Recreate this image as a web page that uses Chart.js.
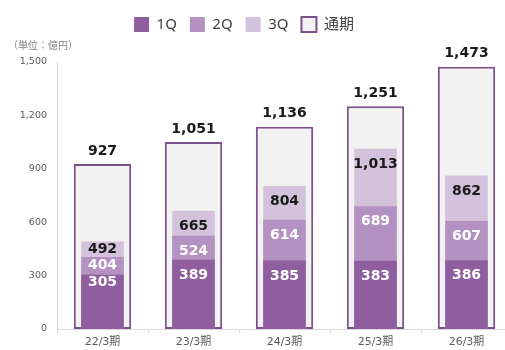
<!DOCTYPE html>
<html>
<head>
<meta charset="utf-8">
<script src="https://cdn.jsdelivr.net/npm/chart.js@4.4.0/dist/chart.umd.min.js"></script>
<style>
  html, body { margin: 0; padding: 0; background: #fff; overflow: hidden; }
  #wrap { position: relative; width: 505px; height: 350px; overflow: hidden; }
  #wrap canvas { position: absolute; left: -24px; top: 0; }
</style>
</head>
<body>
<div id="wrap"><canvas id="chart" width="536" height="350"></canvas></div>
<script>
const periods = ["22/3期", "23/3期", "24/3期", "25/3期", "26/3期"];
const q1 = [305, 389, 385, 383, 386];
const q2 = [404, 524, 614, 689, 607];
const q3 = [492, 665, 804, 1013, 862];
const fullYear = [927, 1051, 1136, 1251, 1473];
const seriesNames = ["1Q", "2Q", "3Q", "通期"];
const yTicks = [0, 300, 600, 900, 1200, 1500];
const unitLabel = "（単位：億円）";

const numFont = '"DejaVu Sans", "Noto Sans CJK JP", sans-serif';
const jpFont = '"Noto Sans", "Noto Sans CJK JP", sans-serif';

// un peu plus d'espace sous la légende
const legendMargin = {
  id: "legendMargin",
  beforeInit(chart) {
    const fit = chart.legend.fit;
    chart.legend.fit = function () {
      fit.bind(chart.legend)();
      this.height += 20;
    };
  }
};

// étiquettes des valeurs + unité
const barLabels = {
  id: "barLabels",
  afterDatasetsDraw(chart) {
    const ctx = chart.ctx;
    const metas = [0, 1, 2, 3].map(i => chart.getDatasetMeta(i));
    ctx.save();
    ctx.font = "bold 14px " + numFont;
    ctx.textAlign = "center";
    ctx.textBaseline = "middle";
    periods.forEach((p, j) => {
      const tops = metas.map(m => m.data[j].y);
      const base = metas[0].data[j].base;
      const segs = [base - tops[0], tops[0] - tops[1], tops[1] - tops[2]];
      const off = Math.min(...segs) < 20 ? 8 : 15.5;
      [q1, q2, q3].forEach((arr, i) => {
        ctx.fillStyle = i < 2 ? "#ffffff" : "#1a1a1a";
        ctx.fillText(arr[j].toLocaleString("en-US"), metas[i].data[j].x, tops[i] + off);
      });
      ctx.fillStyle = "#1a1a1a";
      ctx.fillText(fullYear[j].toLocaleString("en-US"), metas[3].data[j].x, tops[3] - 13);
    });
    ctx.font = "10px " + jpFont;
    ctx.fillStyle = "#808080";
    ctx.textAlign = "left";
    ctx.fillText(unitLabel, chart.chartArea.left - 49, chart.chartArea.top - 16);
    ctx.restore();
  }
};

const ctx = document.getElementById("chart").getContext("2d");
new Chart(ctx, {
  type: "bar",
  data: {
    labels: periods,
    datasets: [
      { label: seriesNames[0], data: q1, backgroundColor: "#8f5e9f", borderWidth: 0, barPercentage: 0.468 },
      { label: seriesNames[1], data: q2, backgroundColor: "#b391c0", borderWidth: 0, barPercentage: 0.468 },
      { label: seriesNames[2], data: q3, backgroundColor: "#d4c1dc", borderWidth: 0, barPercentage: 0.468 },
      { label: seriesNames[3], data: fullYear, backgroundColor: "#f2f2f2", borderColor: "#7e4f8d",
        borderWidth: 2, borderSkipped: false, barPercentage: 0.63 }
    ]
  },
  options: {
    responsive: false,
    animation: false,
    datasets: { bar: { grouped: false, categoryPercentage: 1 } },
    layout: { padding: { top: 4, left: 0, right: 0, bottom: 1 } },
    plugins: {
      legend: {
        position: "top",
        labels: {
          boxWidth: 15,
          boxHeight: 15,
          padding: 13,
          color: "#404040",
          font: { family: jpFont, size: 15 }
        }
      },
      tooltip: { enabled: false }
    },
    scales: {
      x: {
        grid: { display: true, drawOnChartArea: false, tickLength: 4, color: "#d9d9d9" },
        border: { color: "#d9d9d9" },
        afterFit(scale) { scale.height = 20; },
        ticks: { color: "#595959", padding: 3, font: { family: numFont, size: 11 } }
      },
      y: {
        min: 0,
        max: 1500,
        grid: { display: false, drawTicks: false },
        border: { display: true, color: "#d9d9d9" },
        afterBuildTicks(scale) { scale.ticks = yTicks.map(v => ({ value: v })); },
        afterFit(scale) { scale.width = 81; },
        ticks: { color: "#595959", padding: 10, font: { family: numFont, size: 9.5 } }
      }
    }
  },
  plugins: [legendMargin, barLabels]
});
</script>
</body>
</html>
